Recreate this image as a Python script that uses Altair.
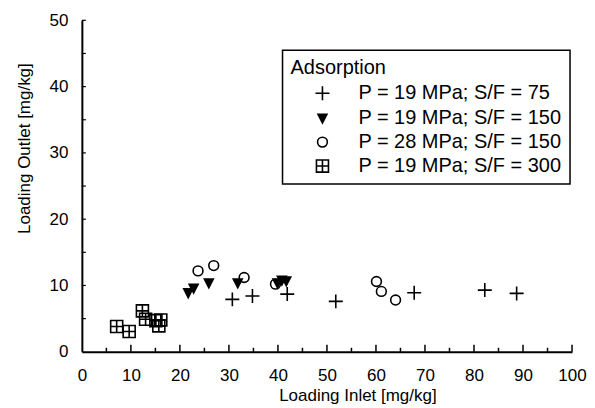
import altair as alt
import pandas as pd

# ---- data ----
labels = ["P = 19 MPa; S/F = 75", "P = 19 MPa; S/F = 150",
          "P = 28 MPa; S/F = 150", "P = 19 MPa; S/F = 300"]

sf75_x = [30.7, 34.8, 41.9, 51.8, 67.8, 82.2, 88.7]
sf75_y = [7.9, 8.4, 8.7, 7.6, 8.9, 9.3, 8.8]

sf150_x = [21.7, 22.8, 25.9, 31.8, 39.9, 40.8, 41.7]
sf150_y = [8.9, 9.6, 10.4, 10.4, 10.4, 10.8, 10.7]

p28_x = [23.7, 26.9, 33.1, 39.5, 60.1, 61.1, 64.0]
p28_y = [12.2, 13.0, 11.2, 10.2, 10.6, 9.1, 7.8]

sf300_x = [7.1, 9.65, 12.35, 13.0, 15.1, 16.1, 15.7]
sf300_y = [3.8, 3.06, 6.17, 4.9, 4.7, 4.8, 3.9]

x_ticks = [0, 10, 20, 30, 40, 50, 60, 70, 80, 90, 100]
y_ticks = [0, 10, 20, 30, 40, 50]
x_major = [10, 20, 30, 40, 50, 60, 70, 80, 90, 100]
x_minor = [5, 15, 25, 35, 45, 55, 65, 75, 85, 95]
y_minor = [5, 10, 15, 20, 25, 30, 35, 40, 45, 50]

rows = []
for lab, xs, ys in zip(labels, [sf75_x, sf150_x, p28_x, sf300_x],
                       [sf75_y, sf150_y, p28_y, sf300_y]):
    for a, b in zip(xs, ys):
        rows.append({"inlet": a, "outlet": b, "series": lab})
df = pd.DataFrame(rows)

W, H = 491, 332
FONT = "Liberation Sans"

shapes = [
    # thin plus
    "M-1,0H1M0,-1V1",
    # solid down-pointing triangle (nested outlines fill it)
    "M-0.64,-0.55L0.64,-0.55L0,0.7Z"
    "M-0.35,-0.36L0.35,-0.36L0,0.33Z"
    "M-0.13,-0.22L0.13,-0.22L0,0.03Z"
    "M0,-0.55L0,0.7",
    # open circle
    "M0.7,0A0.7,0.7,0,1,1,-0.7,0A0.7,0.7,0,1,1,0.7,0Z",
    # square with a cross inside
    "M-0.86,-0.86H0.86V0.86H-0.86ZM0,-0.86V0.86M-0.86,0H0.86",
]

xscale = alt.Scale(domain=[0, 100], nice=False, zero=False)
yscale = alt.Scale(domain=[0, 50], nice=False, zero=False)

leg = alt.Legend(title="Adsorption", symbolStrokeColor="black",
                 symbolStrokeWidth=1.6, symbolSize=196, labelLimit=400)

points = alt.Chart(df).mark_point(size=196, strokeWidth=1.6, opacity=1,
                                  filled=False, color="black").encode(
    x=alt.X("inlet:Q", scale=xscale,
            axis=alt.Axis(title="Loading Inlet [mg/kg]", values=x_ticks,
                          ticks=False, tickSize=0, grid=False, labelPadding=16,
                          labelFlush=False,
                          titleX=276, titleY=44, titleBaseline="middle")),
    y=alt.Y("outlet:Q", scale=yscale,
            axis=alt.Axis(title="Loading Outlet [mg/kg]", values=y_ticks,
                          ticks=False, tickSize=0, grid=False, labelPadding=14,
                          labelFlush=False,
                          titleX=-57, titleY=128, titleBaseline="middle",
                          titleAngle=-90)),
    shape=alt.Shape("series:N", scale=alt.Scale(domain=labels, range=shapes),
                    legend=leg),
)

major = alt.Chart(pd.DataFrame({"v": x_major})).mark_rule(
    color="black", strokeWidth=1.5).encode(
    x=alt.X("v:Q", scale=xscale), y=alt.value(H), y2=alt.value(H - 7))
minor = alt.Chart(pd.DataFrame({"v": x_minor})).mark_rule(
    color="black", strokeWidth=1.5).encode(
    x=alt.X("v:Q", scale=xscale), y=alt.value(H), y2=alt.value(H - 4))
yminor = alt.Chart(pd.DataFrame({"v": y_minor})).mark_rule(
    color="black", strokeWidth=1.2).encode(
    y=alt.Y("v:Q", scale=yscale), x=alt.value(0), x2=alt.value(4))

chart = alt.layer(major, minor, yminor, points).properties(
    width=W, height=H,
    autosize=alt.AutoSizeParams(type="none"),
    padding={"left": 74, "top": 12, "right": 15, "bottom": 56},
).configure_view(stroke=None).configure_axis(
    domainColor="black", domainWidth=2,
    labelFont=FONT, labelFontSize=17, labelColor="black",
    titleFont=FONT, titleFontSize=17, titleColor="black", titleFontWeight="normal",
).configure_legend(
    orient="none", legendX=201, legendY=30,
    strokeColor="black", strokeWidth=1.5, fillColor="white", padding=8,
    titleFont=FONT, titleFontSize=20, titleColor="black", titleFontWeight="normal",
    titlePadding=5,
    labelFont=FONT, labelFontSize=20, labelColor="black",
    symbolOffset=22, labelOffset=26, rowPadding=4,
)

chart.save("out.html", embed_options={"renderer": "svg", "actions": False})
